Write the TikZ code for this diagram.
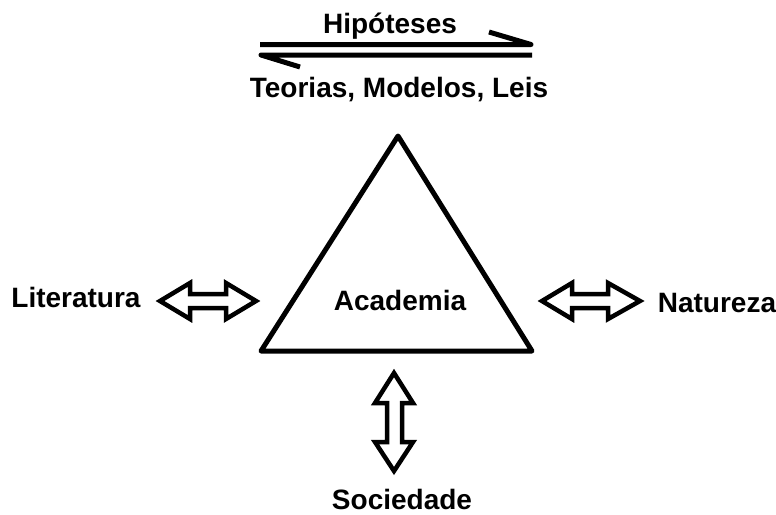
\documentclass[tikz,border=0pt]{standalone}
\usepackage{fontspec}
\setmainfont{Liberation Sans}
\begin{document}
\begin{tikzpicture}[x=1pt,y=-1pt,
  lbl/.style={font=\bfseries\fontsize{28}{32}\selectfont, inner sep=0pt, anchor=base},
  harp/.style={line width=5pt, line join=round},
  heavy/.style={line width=4.5pt, line join=miter},
  tri/.style={line width=5pt, line join=round}]
\useasboundingbox (0,0) rectangle (776,514);
% top labels and harpoons
\node[lbl] (hip) at (390,33) {Hipóteses};
\node[lbl] (teo) at (399,97) {Teorias, Modelos, Leis};
\coordinate (a1) at (260,44.5); \coordinate (a2) at (531,44.5);
\coordinate (b1) at (261,55); \coordinate (b2) at (532,55);
\draw[harp] (a1) -- (a2) -- (489,32);
\draw[harp] (b2) -- (b1) -- (300,67);
% triangle
\coordinate (apex) at (398,136);
\coordinate (bl) at (261,351);
\coordinate (br) at (532,351);
\draw[tri] (apex) -- (bl) -- (br) -- cycle;
\node[lbl] (acad) at (400,310) {Academia};
% side labels
\node[lbl] (lit) at (76,307) {Literatura};
\node[lbl] (nat) at (717,312) {Natureza};
\node[lbl] (soc) at (402,509) {Sociedade};
% left double arrow
\draw[heavy] (160,301) -- (190,283) -- (190,294) -- (226,294) -- (226,283) -- (256,301)
  -- (226,319) -- (226,308) -- (190,308) -- (190,319) -- cycle;
% right double arrow
\draw[heavy] (542,301) -- (572,283) -- (572,294) -- (608,294) -- (608,283) -- (640,301)
  -- (608,319) -- (608,308) -- (572,308) -- (572,319) -- cycle;
% bottom double arrow
\draw[heavy] (394,373) -- (413,403) -- (402,403) -- (402,442) -- (413,442) -- (394,471)
  -- (375,442) -- (387,442) -- (387,403) -- (375,403) -- cycle;
\end{tikzpicture}
\end{document}
